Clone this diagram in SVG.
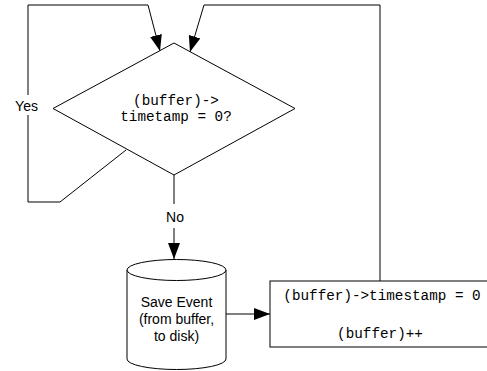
<svg xmlns="http://www.w3.org/2000/svg" width="487" height="371" viewBox="0 0 487 371">
<style>
.ln{fill:none;stroke:#000;stroke-width:1}
.shape{fill:#fff;stroke:#000;stroke-width:1}
.sans{font-family:"Liberation Sans",Arial,sans-serif;font-size:14px;fill:#000;text-anchor:middle}
.mono{font-family:"Liberation Mono","Courier New",monospace;font-size:14.3px;fill:#000;text-anchor:middle}
</style>
<defs>
<marker id="ah" markerUnits="userSpaceOnUse" markerWidth="16" markerHeight="12" refX="16" refY="6" orient="auto">
<path d="M0,0 L16,6 L0,12 z" fill="#000"/>
</marker>
</defs>
<rect width="487" height="371" fill="#fff"/>
<g id="connectors">
<path class="ln" d="M126,150 L60,202 L28,202 L28,5 L148,5 L160,51" marker-end="url(#ah)"/>
<path class="ln" d="M380,281 L380,5 L204,5 L190,52" marker-end="url(#ah)"/>
<path class="ln" d="M174,175 L174,259" marker-end="url(#ah)"/>
<path class="ln" d="M226,314 L270,314" marker-end="url(#ah)"/>
<rect x="12" y="95" width="31" height="20" fill="#fff"/>
<text class="sans" x="26.5" y="111">Yes</text>
<rect x="163" y="204" width="24" height="24" fill="#fff"/>
<text class="sans" x="175" y="222">No</text>
</g>
<g id="decision">
<polygon class="shape" points="174,43 295,108.5 174,175 53,108.5"/>
<text class="mono" x="176" y="105">(buffer)-&gt;</text>
<text class="mono" x="176" y="121">timetamp = 0?</text>
</g>
<g id="save">
<path class="shape" d="M127,270 L127,359 A49.5,10.5 0 0 0 226,359 L226,270"/>
<ellipse class="shape" cx="176.5" cy="270" rx="49.5" ry="10.5"/>
<text class="sans" x="176.5" y="307">Save Event</text>
<text class="sans" x="176.5" y="324">(from buffer,</text>
<text class="sans" x="176.5" y="341">to disk)</text>
</g>
<g id="update">
<rect class="shape" x="270" y="281" width="220" height="66"/>
<text class="mono" x="382" y="300">(buffer)-&gt;timestamp = 0</text>
<text class="mono" x="380" y="338">(buffer)++</text>
</g>
</svg>
